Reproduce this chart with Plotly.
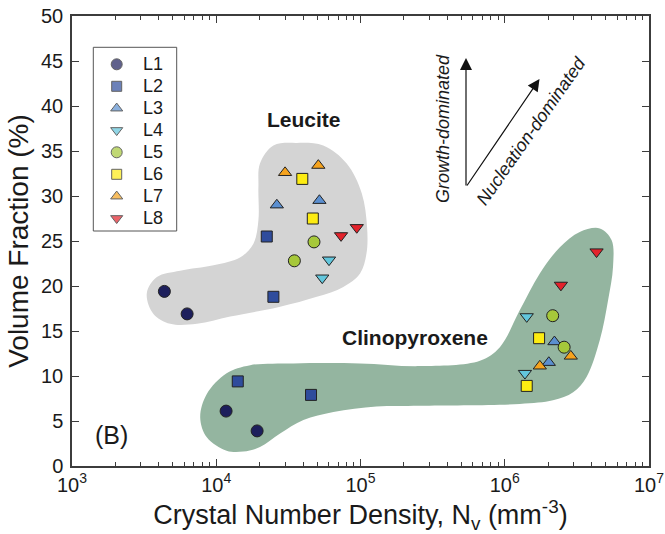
import plotly.graph_objects as go

# ---- crystal number density (mm^-3) and volume fraction (%) per sample ----
series_names = ["L1", "L2", "L3", "L4", "L5", "L6", "L7", "L8"]

L1_nv = [4.37e3, 6.28e3, 1.17e4, 1.92e4]
L1_vf = [19.4, 16.9, 6.1, 3.9]
L2_nv = [2.24e4, 2.49e4, 1.41e4, 4.54e4]
L2_vf = [25.5, 18.8, 9.4, 7.9]
L3_nv = [2.63e4, 5.19e4, 2.21e6, 2.02e6]
L3_vf = [29.0, 29.5, 13.8, 11.5]
L4_nv = [6.05e4, 5.43e4, 1.42e6, 1.38e6]
L4_vf = [22.9, 20.9, 16.6, 10.3]
L5_nv = [4.76e4, 3.48e4, 2.15e6, 2.58e6]
L5_vf = [24.9, 22.8, 16.7, 13.2]
L6_nv = [3.95e4, 4.67e4, 1.73e6, 1.42e6]
L6_vf = [31.9, 27.5, 14.2, 8.9]
L7_nv = [3.0e4, 5.1e4, 2.87e6, 1.75e6]
L7_vf = [32.6, 33.4, 12.2, 11.1]
L8_nv = [7.33e4, 9.42e4, 4.33e6, 2.45e6]
L8_vf = [25.6, 26.5, 23.8, 20.1]

# ---- outlines of the leucite and clinopyroxene fields ----
leucite_nv = [2.01e4, 2.49e4, 3.61e4, 5.52e4, 8.02e4, 1.02e5, 1.11e5, 1.10e5,
              9.93e4, 7.6e4, 4.98e4, 2.77e4, 1.25e4, 7.35e3, 4.8e3, 3.67e3,
              3.3e3, 3.88e3, 5.62e3, 9.57e3, 1.47e4, 1.81e4, 1.96e4, 1.96e4, 2.01e4]
leucite_vf = [33.6, 35.6, 35.9, 35.6, 33.6, 30.3, 26.6, 23.6,
              21.4, 19.9, 18.8, 17.7, 16.6, 15.8, 15.8, 16.9,
              19.2, 21.0, 21.7, 22.3, 23.2, 24.7, 27.3, 31.0, 33.6]

cpx_nv = [1.72e4, 3.43e4, 9.9e4, 2.58e5, 6.73e5, 9.25e5, 1.27e6, 1.75e6,
          2.41e6, 3.31e6, 4.56e6, 5.5e6, 5.63e6, 5.2e6, 4.56e6, 3.69e6,
          2.98e6, 2.16e6, 1.27e6, 2.58e5, 1.29e5, 6.49e4, 4.02e4, 2.77e4,
          2.01e4, 1.54e4, 1.18e4, 8.6e3, 7.74e3, 8.6e3, 1.18e4, 1.72e4]
cpx_vf = [11.2, 11.4, 11.4, 11.1, 11.7, 13.2, 17.3, 21.4,
          24.3, 26.0, 26.4, 25.1, 22.1, 18.4, 14.0, 9.9,
          8.2, 7.3, 6.9, 6.7, 6.6, 6.0, 5.1, 3.6,
          2.1, 1.6, 1.7, 3.2, 5.4, 8.0, 10.3, 11.2]

x_tick_vals = [1e3, 1e4, 1e5, 1e6, 1e7]
x_tick_text = ["10<sup>3</sup>", "10<sup>4</sup>", "10<sup>5</sup>",
               "10<sup>6</sup>", "10<sup>7</sup>"]

# ---- styling ----
FONT = "Liberation Sans, Arial, Helvetica, sans-serif"
INK = "#1a1a1a"
AXIS = "#3c3c3c"
symbols = ["circle", "square", "triangle-up", "triangle-down",
           "circle", "square", "triangle-up", "triangle-down"]
colors = ["#1d1f5c", "#2f4c9c", "#5b8fd0", "#62c6dc",
          "#a6c83a", "#fdec12", "#f6a31d", "#e3222b"]
sizes = [12, 11, 11.5, 11.5, 12, 11, 11.5, 11.5]

W, H = 665, 534
ML, MR, MT, MB = 72, 16, 16, 68
PW, PH = W - ML - MR, H - MT - MB


def paper_x(px):
    return (px - ML) / PW


def paper_y(py):
    return (H - MB - py) / PH


def label(px, py, text, size, angle=0, anchor="center"):
    return dict(x=paper_x(px), y=paper_y(py), xref="paper", yref="paper",
                text=text, showarrow=False, textangle=angle,
                xanchor=anchor, yanchor="middle",
                font=dict(family=FONT, size=size, color=INK))


fig = go.Figure()

# shaded mineral fields
fig.add_trace(go.Scatter(x=leucite_nv, y=leucite_vf, mode="lines",
                         line=dict(width=0, shape="spline", smoothing=1.0),
                         fill="toself", fillcolor="#d4d4d4",
                         hoverinfo="skip", showlegend=False))
fig.add_trace(go.Scatter(x=cpx_nv, y=cpx_vf, mode="lines",
                         line=dict(width=0, shape="spline", smoothing=1.0),
                         fill="toself", fillcolor="#94b5a0",
                         hoverinfo="skip", showlegend=False))

all_nv = [L1_nv, L2_nv, L3_nv, L4_nv, L5_nv, L6_nv, L7_nv, L8_nv]
all_vf = [L1_vf, L2_vf, L3_vf, L4_vf, L5_vf, L6_vf, L7_vf, L8_vf]
for name, nv, vf, sym, col, sz in zip(series_names, all_nv, all_vf,
                                       symbols, colors, sizes):
    fig.add_trace(go.Scatter(x=nv, y=vf, mode="markers", name=name,
                             marker=dict(symbol=sym, color=col, size=sz,
                                         line=dict(color="#222222", width=1)),
                             showlegend=False))

# hand-built legend on an overlay of the plot area
legend_rows = [64.3 + 22 * i for i in range(len(series_names))]
fig.add_trace(go.Scatter(x=[paper_x(116.7)] * len(series_names),
                         y=[paper_y(r) for r in legend_rows],
                         mode="markers", xaxis="x2", yaxis="y2",
                         marker=dict(symbol=symbols, color=colors,
                                     size=[s - 1 for s in sizes],
                                     line=dict(color="#222222", width=1)),
                         hoverinfo="skip", showlegend=False))

annotations = [label(141, r, name, 18, anchor="left")
               for name, r in zip(series_names, legend_rows)]

# field labels and panel tag
annotations += [
    label(304, 119, "<b>Leucite</b>", 21),
    label(415, 337.5, "<b>Clinopyroxene</b>", 21),
    label(111, 435, "(B)", 25),
]

# growth / nucleation arrows
annotations += [
    dict(x=paper_x(466), y=paper_y(58), xref="paper", yref="paper",
         ax=0, ay=129, text="", showarrow=True, arrowhead=2,
         arrowsize=2.0, arrowwidth=1.2, arrowcolor="#111111"),
    dict(x=paper_x(539.5), y=paper_y(79), xref="paper", yref="paper",
         ax=-73.5, ay=108, text="", showarrow=True, arrowhead=2,
         arrowsize=2.0, arrowwidth=1.2, arrowcolor="#111111"),
    label(442.5, 128.5, "<i>Growth-dominated</i>", 18, angle=-90),
    label(531, 131, "<i>Nucleation-dominated</i>", 18, angle=-55),
]

minor_vals = [m * 10 ** e for e in range(3, 7) for m in range(2, 10)]

fig.update_layout(
    width=W, height=H,
    margin=dict(l=ML, r=MR, t=MT, b=MB, autoexpand=False),
    paper_bgcolor="white", plot_bgcolor="white",
    font=dict(family=FONT, size=20, color=INK),
    annotations=annotations,
    shapes=[dict(type="rect", xref="paper", yref="paper",
                 x0=paper_x(93.3), x1=paper_x(176.7),
                 y0=paper_y(231), y1=paper_y(47.3),
                 line=dict(color="#555555", width=1), fillcolor="white",
                 layer="below")],
    xaxis=dict(type="log", range=[3, 7], tickvals=x_tick_vals,
               ticktext=x_tick_text, ticks="inside", ticklen=7,
               tickwidth=1.2, tickcolor=AXIS, showline=True, linecolor=AXIS,
               linewidth=1.5, mirror="ticks", showgrid=False, zeroline=False,
               tickfont=dict(family=FONT, size=20, color=INK),
               minor=dict(tickvals=minor_vals, ticks="inside", ticklen=4,
                          tickwidth=1, tickcolor=AXIS, showgrid=False),
               title=dict(text="Crystal Number Density, N<sub>v</sub> (mm<sup>-3</sup>)",
                          font=dict(family=FONT, size=27, color=INK),
                          standoff=4)),
    yaxis=dict(range=[0, 50], dtick=5, ticks="inside", ticklen=7,
               tickwidth=1.2, tickcolor=AXIS, showline=True, linecolor=AXIS,
               linewidth=1.5, mirror="ticks", showgrid=False, zeroline=False,
               tickfont=dict(family=FONT, size=20, color=INK),
               ticklabelstandoff=3,
               title=dict(text="Volume Fraction (%)",
                          font=dict(family=FONT, size=28, color=INK),
                          standoff=4)),
    xaxis2=dict(overlaying="x", range=[0, 1], visible=False,
                fixedrange=True),
    yaxis2=dict(overlaying="y", range=[0, 1], visible=False,
                fixedrange=True),
)

fig.write_html("out.html")
